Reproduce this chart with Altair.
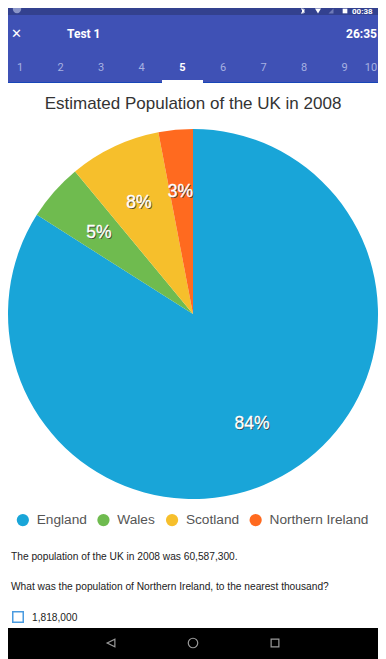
import altair as alt
import pandas as pd

# --- chart data ---
regions = ["England", "Wales", "Scotland", "Northern Ireland"]
shares = [84, 5, 8, 3]
colors = ["#19A5D8", "#6FBB4F", "#F6BF2C", "#FF6A1F"]
title = "Estimated Population of the UK in 2008"
tab_labels = ["1", "2", "3", "4", "5", "6", "7", "8", "9", "10"]
question_lines = [
    "The population of the UK in 2008 was 60,587,300.",
    "What was the population of Northern Ireland, to the nearest thousand?",
]
answer = "1,818,000"

W, H = 370, 651
PAGE = 8
X = alt.Scale(domain=[PAGE, PAGE + W], range=[0, W])
Y = alt.Scale(domain=[PAGE, PAGE + H], range=[0, H])
FONT = "Liberation Sans"
UI = "Roboto"


def rect(x0, x1, y0, y1, **mark):
    d = pd.DataFrame({"a": [x0], "b": [x1], "c": [y0], "d": [y1]})
    return alt.Chart(d).mark_rect(**mark).encode(
        x=alt.X("a:Q", scale=X, axis=None), x2="b:Q",
        y=alt.Y("c:Q", scale=Y, axis=None), y2="d:Q",
    )


def label(text, x, y, **mark):
    d = pd.DataFrame({"x": [x], "y": [y], "t": [text]})
    return alt.Chart(d).mark_text(baseline="middle", **mark).encode(
        x=alt.X("x:Q", scale=X, axis=None),
        y=alt.Y("y:Q", scale=Y, axis=None),
        text="t:N",
    )


def glyph(shape, x, y, size, **mark):
    d = pd.DataFrame({"x": [x], "y": [y]})
    return alt.Chart(d).mark_point(shape=shape, size=size, opacity=1, **mark).encode(
        x=alt.X("x:Q", scale=X, axis=None),
        y=alt.Y("y:Q", scale=Y, axis=None),
    )


layers = []

# app chrome
layers += [
    rect(8, 386, 8, 15, color="#33418F"),
    rect(8, 386, 15, 82, color="#3F51B5"),
    rect(8, 386, 82, 83, color="#1746B8"),
    rect(162, 203, 80, 83, color="#FFFFFF"),
    glyph("circle", 17, 9, 70, filled=True, color="#8A95C8"),
    glyph("M-0.6,-1L0.6,0L-0.6,1M-0.6,-0.6L0.6,0.6M-0.6,0.6L0.6,-0.6M0,-1L0,1", 303, 11, 25,
          filled=False, color="#FFFFFF", strokeWidth=1),
    glyph("M-1,-0.7L1,-0.7L0,1Z", 318, 10.5, 36, filled=True, color="#FFFFFF"),
    glyph("M-1,1L1,-1L1,1Z", 331, 11, 25, filled=True, color="#6E7AB8"),
    glyph("square", 345, 11, 22, filled=True, color="#FFFFFF"),
    label("00:38", 352, 11.5, align="left", font=UI, fontSize=8, fontWeight="bold", color="#FFFFFF"),
    label("✕", 16.5, 34, font="DejaVu Sans", fontSize=13, color="#FFFFFF"),
    label("Test 1", 67, 34, align="left", font=UI, fontSize=12, fontWeight="bold", color="#FFFFFF"),
    label("26:35", 377, 34, align="right", font=UI, fontSize=12, fontWeight="bold", color="#FFFFFF"),
]
tab_x = [20, 60.5, 101, 141.5, 182.5, 223, 263.5, 304, 344.5, 371]
for t, tx in zip(tab_labels, tab_x):
    active = t == "5"
    layers.append(label(t, tx, 68, font=UI, fontSize=11,
                        fontWeight="bold" if active else "normal",
                        color="#FFFFFF" if active else "#A7B2E2"))

# title
layers.append(label(title, 193, 104, font=FONT, fontSize=17, color="#333333"))

# pie
pie_df = pd.DataFrame({"region": regions, "share": shares, "i": range(len(regions))})
layers.append(
    alt.Chart(pie_df).mark_arc(radius=185).encode(
        theta=alt.Theta("share:Q", stack=True, scale=alt.Scale(domain=[0, 100], range=[0, 6.2832])),
        order=alt.Order("i:Q"),
        color=alt.Color(
            "region:N",
            sort=regions,
            scale=alt.Scale(domain=regions, range=colors),
            legend=alt.Legend(
                orient="none", legendX=8, legendY=505, direction="horizontal",
                columns=4, title=None, symbolType="circle", symbolSize=150,
                symbolStrokeWidth=0, labelFont=FONT, labelFontSize=13.7,
                labelColor="#555555", labelOffset=7, columnPadding=9.6,
                symbolOpacity=1,
            ),
        ),
        x=alt.value(193 - PAGE),
        y=alt.value(314 - PAGE),
    )
)

# pie value labels
lab_x = [252, 99, 139, 180.5]
lab_y = [424, 233, 203, 192]
for s, lx, ly in zip(shares, lab_x, lab_y):
    layers.append(label(f"{s}%", lx + 1, ly + 1, font=FONT, fontSize=17.5, color="#333333", opacity=0.8))
    layers.append(label(f"{s}%", lx, ly, font=FONT, fontSize=17.5, color="#FFFFFF",
                        stroke="#FFFFFF", strokeWidth=0.3))

# question
layers += [
    label(question_lines[0], 11, 557, align="left", font=FONT, fontSize=10.2, color="#222222"),
    label(question_lines[1], 11, 587, align="left", font=FONT, fontSize=10.2, color="#222222"),
    glyph("square", 18, 617, 110, filled=False, color="#4A9BE0", strokeWidth=1.5),
    label(answer, 32, 618, align="left", font=FONT, fontSize=10.2, color="#222222"),
]

# navigation bar
layers += [
    rect(8, 386, 628, 659, color="#000000"),
    glyph("M-1,0L1,-1L1,1Z", 111, 643, 60, filled=False, color="#9A9A9A", strokeWidth=1.2),
    glyph("circle", 193, 643, 90, filled=False, color="#9A9A9A", strokeWidth=1.2),
    glyph("square", 275, 643, 60, filled=False, color="#9A9A9A", strokeWidth=1.2),
]

chart = (
    alt.layer(*layers)
    .resolve_scale(color="independent")
    .properties(width=W, height=H, padding=0, autosize=alt.AutoSizeParams(type="none"))
    .configure_view(stroke=None)
)
chart.save("out.html", embed_options={"renderer": "svg", "actions": False})
